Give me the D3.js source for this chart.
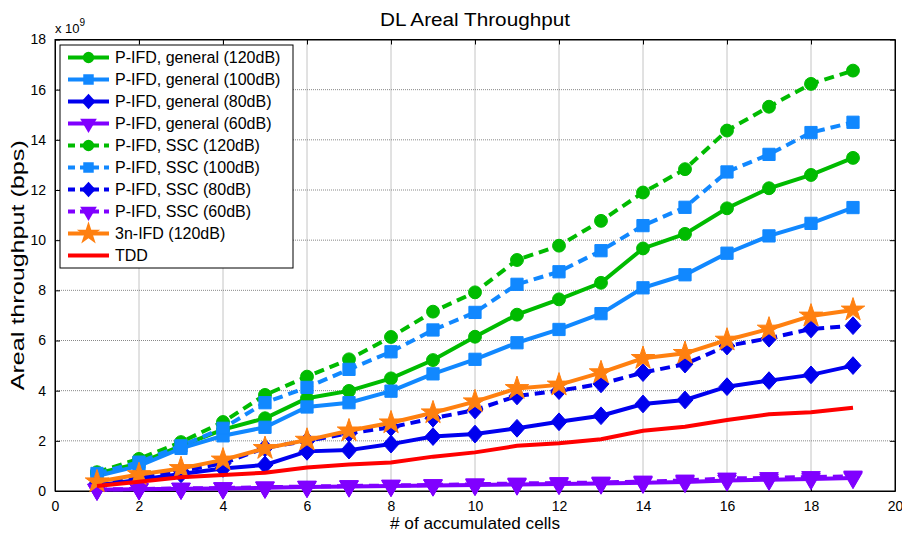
<!DOCTYPE html>
<html>
<head>
<meta charset="utf-8">
<script src="https://cdn.jsdelivr.net/npm/d3@7"></script>
<style>
  body { margin: 0; background: #fff; }
  text { font-family: "Liberation Sans", Arial, sans-serif; fill: #000; }
</style>
</head>
<body>
<div class="chart"></div>
<script>
// data (values in units of 1e9 bps)
const cells = d3.range(1, 20)
const gen120 = [0.7, 1.1, 1.8, 2.45, 2.9, 3.7, 3.99, 4.49, 5.22, 6.15, 7.03, 7.64, 8.3, 9.67, 10.25, 11.27, 12.07, 12.6, 13.28]
const gen100 = [0.6, 1.0, 1.7, 2.2, 2.54, 3.35, 3.52, 3.98, 4.67, 5.25, 5.91, 6.44, 7.07, 8.1, 8.62, 9.48, 10.17, 10.67, 11.3]
const gen80 = [0.22, 0.45, 0.68, 0.9, 1.04, 1.58, 1.63, 1.87, 2.17, 2.27, 2.5, 2.76, 3.0, 3.47, 3.63, 4.16, 4.4, 4.63, 5.0]
const gen60 = [0.05, 0.07, 0.09, 0.1, 0.13, 0.16, 0.18, 0.2, 0.22, 0.24, 0.26, 0.28, 0.3, 0.33, 0.36, 0.42, 0.45, 0.48, 0.52]
const ssc120 = [0.75, 1.28, 1.95, 2.75, 3.83, 4.56, 5.25, 6.14, 7.15, 7.92, 9.21, 9.78, 10.77, 11.9, 12.83, 14.37, 15.32, 16.23, 16.76]
const ssc100 = [0.7, 1.15, 1.8, 2.5, 3.52, 4.13, 4.85, 5.55, 6.42, 7.12, 8.24, 8.74, 9.58, 10.58, 11.31, 12.72, 13.42, 14.29, 14.7]
const ssc80 = [0.3, 0.55, 0.8, 1.1, 1.72, 2.0, 2.3, 2.54, 2.9, 3.23, 3.79, 4.0, 4.27, 4.72, 5.06, 5.78, 6.09, 6.46, 6.59]
const ssc60 = [0.06, 0.08, 0.1, 0.12, 0.15, 0.18, 0.2, 0.22, 0.24, 0.27, 0.3, 0.32, 0.34, 0.38, 0.42, 0.5, 0.52, 0.56, 0.58]
const ifd3n = [0.37, 0.66, 0.9, 1.24, 1.7, 2.03, 2.4, 2.72, 3.12, 3.56, 4.09, 4.23, 4.72, 5.29, 5.49, 6.02, 6.46, 6.98, 7.22]
const tdd = [0.2, 0.37, 0.55, 0.64, 0.73, 0.94, 1.06, 1.14, 1.37, 1.54, 1.8, 1.9, 2.06, 2.4, 2.56, 2.83, 3.06, 3.14, 3.32]

const xTicks = d3.range(0, 21, 2)
const yTicks = d3.range(0, 19, 2)

const series = [
  {name: 'P-IFD, general (120dB)', values: gen120, color: '#00bb00', dash: null, marker: 'circle'},
  {name: 'P-IFD, general (100dB)', values: gen100, color: '#1188ff', dash: null, marker: 'square'},
  {name: 'P-IFD, general (80dB)', values: gen80, color: '#0000ee', dash: null, marker: 'diamond'},
  {name: 'P-IFD, general (60dB)', values: gen60, color: '#8000ff', dash: null, marker: 'triangle'},
  {name: 'P-IFD, SSC (120dB)', values: ssc120, color: '#00bb00', dash: '10,6', marker: 'circle'},
  {name: 'P-IFD, SSC (100dB)', values: ssc100, color: '#1188ff', dash: '10,6', marker: 'square'},
  {name: 'P-IFD, SSC (80dB)', values: ssc80, color: '#0000ee', dash: '10,6', marker: 'diamond'},
  {name: 'P-IFD, SSC (60dB)', values: ssc60, color: '#8000ff', dash: '10,6', marker: 'triangle'},
  {name: '3n-IFD (120dB)', values: ifd3n, color: '#ff8010', dash: null, marker: 'star'},
  {name: 'TDD', values: tdd, color: '#ff0000', dash: null, marker: null}
]

const W = 902, H = 534
const box = {left: 55, right: 895, top: 39.5, bottom: 491}

const svg = d3.select('.chart')
  .append('svg')
  .attr('width', W)
  .attr('height', H)

const x = d3.scaleLinear().domain([0, 20]).range([box.left, box.right])
const y = d3.scaleLinear().domain([0, 18]).range([box.bottom, box.top])

// grid
const grid = svg.append('g')
grid.selectAll('.gx').data(xTicks.slice(1, -1)).enter()
  .append('line')
  .attr('x1', d => x(d)).attr('x2', d => x(d))
  .attr('y1', box.top).attr('y2', box.bottom)
  .attr('stroke', '#888').attr('stroke-width', 1).attr('stroke-dasharray', '1,1')
grid.selectAll('.gy').data(yTicks.slice(1, -1)).enter()
  .append('line')
  .attr('y1', d => y(d)).attr('y2', d => y(d))
  .attr('x1', box.left).attr('x2', box.right)
  .attr('stroke', '#888').attr('stroke-width', 1).attr('stroke-dasharray', '1,1')

// axes (matlab style, ticks inside, all four sides)
const xAxis = d3.axisBottom(x).tickValues(xTicks).tickSizeInner(-5).tickSizeOuter(0).tickPadding(10)
const yAxis = d3.axisLeft(y).tickValues(yTicks).tickSizeInner(-5).tickSizeOuter(0).tickPadding(9)

svg.append('g').attr('transform', `translate(0,${box.bottom})`).call(xAxis)
svg.append('g').attr('transform', `translate(${box.left},0)`).call(yAxis)
svg.append('g').attr('transform', `translate(0,${box.top})`)
  .call(d3.axisTop(x).tickValues(xTicks).tickSizeInner(-5).tickSizeOuter(0).tickFormat(''))
svg.append('g').attr('transform', `translate(${box.right},0)`)
  .call(d3.axisRight(y).tickValues(yTicks).tickSizeInner(-5).tickSizeOuter(0).tickFormat(''))

svg.selectAll('.domain').attr('stroke', '#000')
svg.selectAll('.tick line').attr('stroke', '#000')
svg.selectAll('.tick text').attr('font-size', 14).attr('fill', '#000')
  .style('font-family', '"Liberation Sans", Arial, sans-serif')

svg.append('rect')
  .attr('x', box.left).attr('y', box.top)
  .attr('width', box.right - box.left).attr('height', box.bottom - box.top)
  .attr('fill', 'none').attr('stroke', '#000')

// matlab-ish diamond (wider than d3's)
const wideDiamond = {
  draw(ctx, size) {
    const h = Math.sqrt(size) * 0.75, w = h * 0.9
    ctx.moveTo(0, -h); ctx.lineTo(w, 0); ctx.lineTo(0, h); ctx.lineTo(-w, 0); ctx.closePath()
  }
}

// marker shapes
const symbolFor = {
  circle: d3.symbol(d3.symbolCircle, 130),
  square: d3.symbol(d3.symbolSquare, 150),
  diamond: d3.symbol(wideDiamond, 140),
  triangle: d3.symbol(d3.symbolTriangle, 150),
  star: d3.symbol(d3.symbolStar, 170)
}
const legendSymbol = {
  circle: d3.symbol(d3.symbolCircle, 100),
  square: d3.symbol(d3.symbolSquare, 110),
  diamond: d3.symbol(wideDiamond, 110),
  triangle: d3.symbol(d3.symbolTriangle, 120),
  star: d3.symbol(d3.symbolStar, 170)
}

const line = d3.line()
  .x((d, i) => x(cells[i]))
  .y(d => y(d))

const plot = svg.append('g')
series.forEach(s => {
  plot.append('path')
    .attr('d', line(s.values))
    .attr('fill', 'none')
    .attr('stroke', s.color)
    .attr('stroke-width', 4)
    .attr('stroke-dasharray', s.dash)
  if (s.marker) {
    plot.selectAll(null).data(s.values).enter()
      .append('path')
      .attr('d', symbolFor[s.marker])
      .attr('transform', (d, i) => `translate(${x(cells[i])},${y(d)})` + (s.marker === 'triangle' ? ' rotate(180)' : ''))
      .attr('fill', s.color)
      .attr('stroke', s.color)
      .attr('stroke-width', 1)
  }
})

// legend
const lg = svg.append('g').attr('transform', 'translate(60,45)')
lg.append('rect')
  .attr('width', 233).attr('height', 223)
  .attr('fill', '#fff').attr('stroke', '#000')
series.forEach((s, i) => {
  const row = lg.append('g').attr('transform', `translate(0,${12.5 + i * 22})`)
  row.append('line')
    .attr('x1', 8).attr('x2', 49).attr('y1', 0).attr('y2', 0)
    .attr('stroke', s.color).attr('stroke-width', 4)
    .attr('stroke-dasharray', s.dash ? '7,5' : null)
  if (s.marker) {
    row.append('path')
      .attr('d', legendSymbol[s.marker])
      .attr('transform', 'translate(28.5,0)' + (s.marker === 'triangle' ? ' rotate(180)' : ''))
      .attr('fill', s.color)
  }
  row.append('text')
    .attr('x', 55).attr('y', 0).attr('dy', '0.35em')
    .attr('font-size', 16)
    .text(s.name)
})

// titles
svg.append('text')
  .attr('x', (box.left + box.right) / 2).attr('y', 26)
  .attr('text-anchor', 'middle').attr('font-size', 18)
  .attr('textLength', 190).attr('lengthAdjust', 'spacingAndGlyphs')
  .text('DL Areal Throughput')

svg.append('text')
  .attr('x', (box.left + box.right) / 2).attr('y', 529)
  .attr('text-anchor', 'middle').attr('font-size', 17)
  .attr('textLength', 170).attr('lengthAdjust', 'spacingAndGlyphs')
  .text('# of accumulated cells')

svg.append('text')
  .attr('transform', `translate(24,${(box.top + box.bottom) / 2}) rotate(-90)`)
  .attr('text-anchor', 'middle').attr('font-size', 18)
  .attr('textLength', 250).attr('lengthAdjust', 'spacingAndGlyphs')
  .text('Areal throughput (bps)')

const exp = svg.append('text').attr('x', 55).attr('y', 33).attr('font-size', 13)
exp.append('tspan').text('x 10')
exp.append('tspan').attr('dy', -7).attr('font-size', 10).text('9')
</script>
</body>
</html>
